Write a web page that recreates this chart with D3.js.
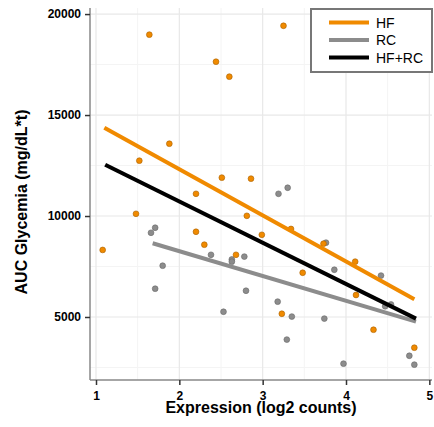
<!DOCTYPE html>
<html>
<head>
<meta charset="UTF-8">
<script src="https://d3js.org/d3.v7.min.js"></script>
<style>
  body { margin: 0; background: #fff; }
  svg text { font-family: "Liberation Sans", Arial, sans-serif; }
</style>
</head>
<body>
<div id="chart"></div>
<script>
// HF points (x = expression, y = AUC)
var hfX = [1.08, 1.64, 1.48, 1.52, 1.88, 2.44, 2.60, 2.20, 2.51, 2.86, 3.25, 2.20, 2.30, 2.68, 2.81, 2.99, 3.34, 3.48, 3.73, 4.11, 4.12, 3.23, 4.33, 4.82];
var hfY = [8320, 18980, 10110, 12740, 13580, 17640, 16900, 11100, 11900, 11850, 19420, 9220, 8580, 8080, 10010, 9070, 9360, 7190, 8630, 7740, 6090, 5160, 4370, 3480];

// RC points
var rcX = [1.66, 1.71, 1.80, 1.71, 2.38, 2.63, 2.63, 2.78, 2.80, 2.53, 3.19, 3.30, 3.18, 3.35, 3.29, 3.76, 3.86, 3.74, 4.42, 4.54, 4.47, 3.97, 4.76, 4.82];
var rcY = [9170, 9420, 7540, 6400, 8080, 7850, 7740, 7990, 6300, 5260, 11100, 11400, 5760, 5020, 3880, 8680, 7340, 4920, 7050, 5620, 5530, 2690, 3080, 2640];

// fitted lines, endpoints
var series = ["HF", "RC", "HF+RC"];
var fitX = [[1.10, 4.82], [1.68, 4.84], [1.11, 4.84]];
var fitY = [[14370, 5880], [8650, 4770], [12540, 4920]];
var colors = ["#f08a00", "#8c8c8c", "#000000"];

var xTicks = [1, 2, 3, 4, 5];
var yTicks = [5000, 10000, 15000, 20000];
var minorX = [1.5, 2.5, 3.5, 4.5];
var minorY = [2500, 7500, 12500, 17500];

var W = 434, H = 427;
var pL = 90, pR = 432, pT = 8, pB = 380;

var svg = d3.select("#chart").append("svg")
  .attr("width", W).attr("height", H);

var x = d3.scaleLinear().domain([0.928, 5.032]).range([pL, pR]);
var y = d3.scaleLinear().domain([1880, 20300]).range([pB, pT]);

// grid
var g = svg.append("g");
g.selectAll(".mx").data(minorX).enter().append("line")
  .attr("x1", d => x(d)).attr("x2", d => x(d)).attr("y1", pT).attr("y2", pB)
  .attr("stroke", "#f4f4f4").attr("stroke-width", 1);
g.selectAll(".my").data(minorY).enter().append("line")
  .attr("y1", d => y(d)).attr("y2", d => y(d)).attr("x1", pL).attr("x2", pR)
  .attr("stroke", "#f4f4f4").attr("stroke-width", 1);
g.selectAll(".gx").data(xTicks).enter().append("line")
  .attr("x1", d => x(d)).attr("x2", d => x(d)).attr("y1", pT).attr("y2", pB)
  .attr("stroke", "#e8e8e8").attr("stroke-width", 1.2);
g.selectAll(".gy").data(yTicks).enter().append("line")
  .attr("y1", d => y(d)).attr("y2", d => y(d)).attr("x1", pL).attr("x2", pR)
  .attr("stroke", "#e8e8e8").attr("stroke-width", 1.2);

// axes
var xAxis = svg.append("g").attr("transform", "translate(0," + pB + ")")
  .call(d3.axisBottom(x).tickValues(xTicks).tickFormat(d3.format("d")).tickSize(5).tickPadding(6));
var yAxis = svg.append("g").attr("transform", "translate(" + pL + ",0)")
  .call(d3.axisLeft(y).tickValues(yTicks).tickFormat(d3.format("d")).tickSize(5).tickPadding(4));
[xAxis, yAxis].forEach(function(a){
  a.select(".domain").attr("stroke", "#888").attr("stroke-width", 1.5);
  a.selectAll(".tick line").attr("stroke", "#333").attr("stroke-width", 1.5);
  a.selectAll(".tick text").attr("fill", "#000").style("font-size", "12px").style("font-weight", "bold");
});
xAxis.select(".domain").attr("d", "M" + pL + ",0H" + pR);
yAxis.select(".domain").attr("d", "M0," + pB + "V" + pT);

// points
function dots(xs, ys, fill, stroke) {
  svg.append("g").selectAll("circle").data(xs).enter().append("circle")
    .attr("cx", d => x(d)).attr("cy", (d, i) => y(ys[i])).attr("r", 2.9)
    .attr("fill", fill).attr("stroke", stroke).attr("stroke-width", 0.6);
}
dots(rcX, rcY, "#8c8c8c", "#666");
dots(hfX, hfY, "#f08a00", "#a85f00");

// fit lines
series.forEach(function(s, i){
  svg.append("line")
    .attr("x1", x(fitX[i][0])).attr("y1", y(fitY[i][0]))
    .attr("x2", x(fitX[i][1])).attr("y2", y(fitY[i][1]))
    .attr("stroke", colors[i]).attr("stroke-width", 4);
});

// legend
var lg = svg.append("g");
lg.append("rect").attr("x", 311).attr("y", 9).attr("width", 121).attr("height", 63)
  .attr("fill", "#fff").attr("stroke", "#777").attr("stroke-width", 2);
series.forEach(function(s, i){
  var yy = 22.5 + i * 17.5;
  lg.append("line").attr("x1", 329).attr("x2", 369).attr("y1", yy).attr("y2", yy)
    .attr("stroke", colors[i]).attr("stroke-width", 4);
  lg.append("text").attr("x", 376).attr("y", yy + 5).text(s)
    .style("font-size", "14px").attr("fill", "#000");
});

// titles
svg.append("text").attr("x", (pL + pR) / 2).attr("y", 413)
  .attr("text-anchor", "middle").style("font-size", "16px").style("font-weight", "bold")
  .text("Expression (log2 counts)");
svg.append("text").attr("transform", "translate(27,202) rotate(-90)")
  .attr("text-anchor", "middle").style("font-size", "16px").style("font-weight", "bold")
  .text("AUC Glycemia (mg/dL*t)");
</script>
</body>
</html>
